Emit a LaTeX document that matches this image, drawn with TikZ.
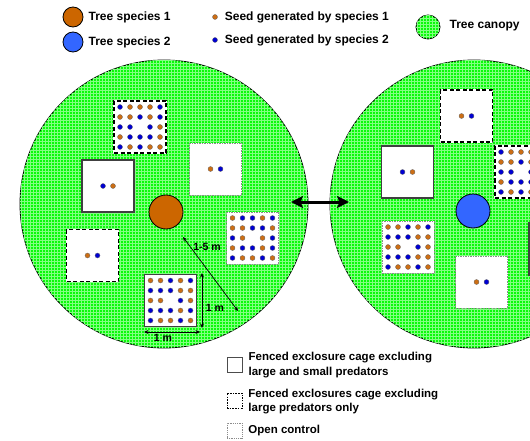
\documentclass[tikz,border=0pt]{standalone}
\usepackage{fontspec}
\setmainfont{Liberation Sans}
\usepackage{xcolor}
\usepackage{tikz}
\usetikzlibrary{arrows.meta, positioning, patterns}

\definecolor{treeorange}{RGB}{204,102,0}
\definecolor{treeblue}{RGB}{51,102,255}
\definecolor{seedorange}{RGB}{204,110,20}
\definecolor{seedblue}{RGB}{0,0,210}
\definecolor{canopygreen}{RGB}{10,250,10}
\definecolor{canopygrid}{RGB}{130,255,130}

\begin{document}
\begin{tikzpicture}[x=1pt, y=-1pt, every node/.style={font=\bfseries\fontsize{12}{14}\selectfont}]
  % Styles
  \tikzset{
    canopy/.style={circle, draw, line width=0.8pt, inner sep=0, minimum size=#1, fill=canopygreen,
      postaction={pattern=grid, pattern color=canopygrid}},
    tree/.style={circle, draw, line width=0.8pt, inner sep=0, minimum size=#1},
    cage/.style={rectangle, fill=white, inner sep=0, minimum size=52pt},
    solidcage/.style={cage, draw=black!75, line width=1.2pt},
    dashcage/.style={cage, draw=white, line width=1.3pt,
      postaction={draw=black, line width=1.3pt, dash pattern=on 4pt off 2.5pt}},
    opencage/.style={cage, draw=black!45, line width=0.9pt, dash pattern=on 1.5pt off 1pt},
    seed/.style={circle, inner sep=0, minimum size=5pt, draw=black!60, line width=0.3pt},
    seedO/.style={seed, fill=seedorange},
    seedB/.style={seed, fill=seedblue},
    keytext/.style={inner sep=0, align=left},
    keynote/.style={inner sep=0, align=left, font=\bfseries\fontsize{11.5}{14.5}\selectfont},
    keybox/.style={rectangle, fill=white, inner sep=0, minimum size=15pt},
    dimlabel/.style={inner sep=0, font=\bfseries\fontsize{10.5}{12}\selectfont},
    bigarrow/.style={{Stealth[length=12pt, width=12pt, inset=2.5pt]}-{Stealth[length=12pt, width=12pt, inset=2.5pt]}, line width=3pt},
    dimarrow/.style={{Stealth[length=4.5pt, width=4pt]}-{Stealth[length=4.5pt, width=4pt]}, line width=0.7pt}
  }

  \useasboundingbox (0,0) rectangle (530,441);
  \clip (0,0) rectangle (530,441);

  % Canopies
  \node (canopyL) [canopy=288pt] at (164,204) {};
  \node (canopyR) [canopy=288pt] at (474,204) {};

  % Cages, left tree
  \node (cageLT) [dashcage] at (140,127) {};
  \node (cageLS) [solidcage] at (108,186) {};
  \node (cageLO) [opencage] at (215.5,169) {};
  \node (cageLD) [dashcage] at (92.5,255.5) {};
  \node (cageLG) [opencage] at (252.5,238) {};
  \node (cageLB) [solidcage] at (170.5,300.5) {};

  % Cages, right tree
  \node (cageRT) [dashcage] at (466.5,116) {};
  \node (cageRS) [solidcage] at (407.5,172) {};
  \node (cageRD) [dashcage] at (521,172) {};
  \node (cageRG) [opencage] at (408,247) {};
  \node (cageRO) [opencage] at (481.5,282) {};
  \node (cageRX) [solidcage] at (555,249) {};

  % Seeds in the 5x5 cages
  \foreach \cg/\pat in {cageLT/{B,O,O,O,B,O,O,B,O,B,B,B,N,B,O,O,B,B,B,O,B,O,B,O,O},
                        cageRD/{B,O,O,O,B,O,O,B,O,B,B,B,N,B,O,O,B,B,B,O,B,O,B,O,O},
                        cageLG/{O,B,B,O,B,O,O,B,B,O,B,O,N,O,B,O,B,B,O,B,B,O,O,B,O},
                        cageLB/{O,O,B,O,B,B,B,B,O,O,O,O,N,B,O,B,B,B,O,B,B,O,O,B,O},
                        cageRG/{O,O,B,O,B,B,B,B,O,O,O,O,N,B,O,B,B,B,O,O,B,O,O,B,O}} {
    \foreach \c [count=\k from 0] in \pat {
      \pgfmathsetmacro\gx{10*(mod(\k,5)-2)}
      \pgfmathsetmacro\gy{10*(div(\k,5)-2)}
      \if N\c\else
        \node (\cg-\k) [seed\c] at ([shift={(\gx,\gy)}]\cg.center) {};
      \fi
    }
  }

  % Seeds in the cages with two seeds
  \foreach \cg/\first/\second in {cageLS/B/O, cageLO/O/B, cageLD/O/B, cageRT/O/B, cageRS/B/O, cageRO/O/B} {
    \node (\cg-a) [seed\first] at ([shift={(-5,0)}]\cg.center) {};
    \node (\cg-b) [seed\second] at ([shift={(5,0)}]\cg.center) {};
  }

  % Trees
  \node (treeL) [tree=34pt, fill=treeorange] at (166,212) {};
  \node (treeR) [tree=34pt, fill=treeblue] at (473,211) {};

  % Arrows
  \coordinate (arrL) at (291,202);
  \coordinate (arrR) at (349,202);
  \draw [bigarrow] (arrL) -- (arrR);

  \coordinate (distA) at (183,237);
  \coordinate (distB) at (238,311);
  \draw [dimarrow] (distA) -- (distB);
  \node (distlabel) [dimlabel] at (207,247) {1-5 m};

  \coordinate (sideT) at (202,273);
  \coordinate (sideB) at (202,328);
  \draw [dimarrow] (sideT) -- (sideB);
  \node (sidelabel) [dimlabel] at (215,308) {1 m};

  \coordinate (baseL) at (144,332);
  \coordinate (baseR) at (200,332);
  \draw [dimarrow] (baseL) -- (baseR);
  \node (baselabel) [dimlabel] at (163,338) {1 m};

  % Key, top
  \node (keyTree1) [tree=20pt, fill=treeorange] at (73,17) {};
  \node (keyTree1txt) [keytext, right=5pt of keyTree1] {Tree species 1};
  \node (keyTree2) [tree=20pt, fill=treeblue] at (73,42) {};
  \node (keyTree2txt) [keytext, right=5pt of keyTree2] {Tree species 2};

  \node (keySeed1) [seedO] at (215,17) {};
  \node (keySeed1txt) [keytext, right=7pt of keySeed1] {Seed generated by species 1};
  \node (keySeed2) [seedB] at (215,40) {};
  \node (keySeed2txt) [keytext, right=7pt of keySeed2] {Seed generated by species 2};

  \node (keyCanopy) [canopy=24pt] at (428,27) {};
  \node (keyCanopytxt) [keytext, right=9pt of keyCanopy, yshift=1pt] {Tree canopy};

  % Key, bottom
  \node (keySolid) [keybox, draw=black!70, line width=0.8pt] at (234.5,365) {};
  \node (keySolidtxt) [keynote, right=6pt of keySolid] {Fenced exclosure cage excluding\\large and small predators};
  \node (keyDash) [keybox, draw=black, line width=0.5pt, dash pattern=on 1.5pt off 1.2pt] at (234.5,400.5) {};
  \node (keyDashtxt) [keynote, right=6pt of keyDash, yshift=-1pt] {Fenced exclosures cage excluding\\large predators only};
  \node (keyOpen) [keybox, draw=black!45, line width=0.5pt, dash pattern=on 1pt off 0.8pt] at (234.5,430.5) {};
  \node (keyOpentxt) [keynote, right=6pt of keyOpen] {Open control};
\end{tikzpicture}
\end{document}
